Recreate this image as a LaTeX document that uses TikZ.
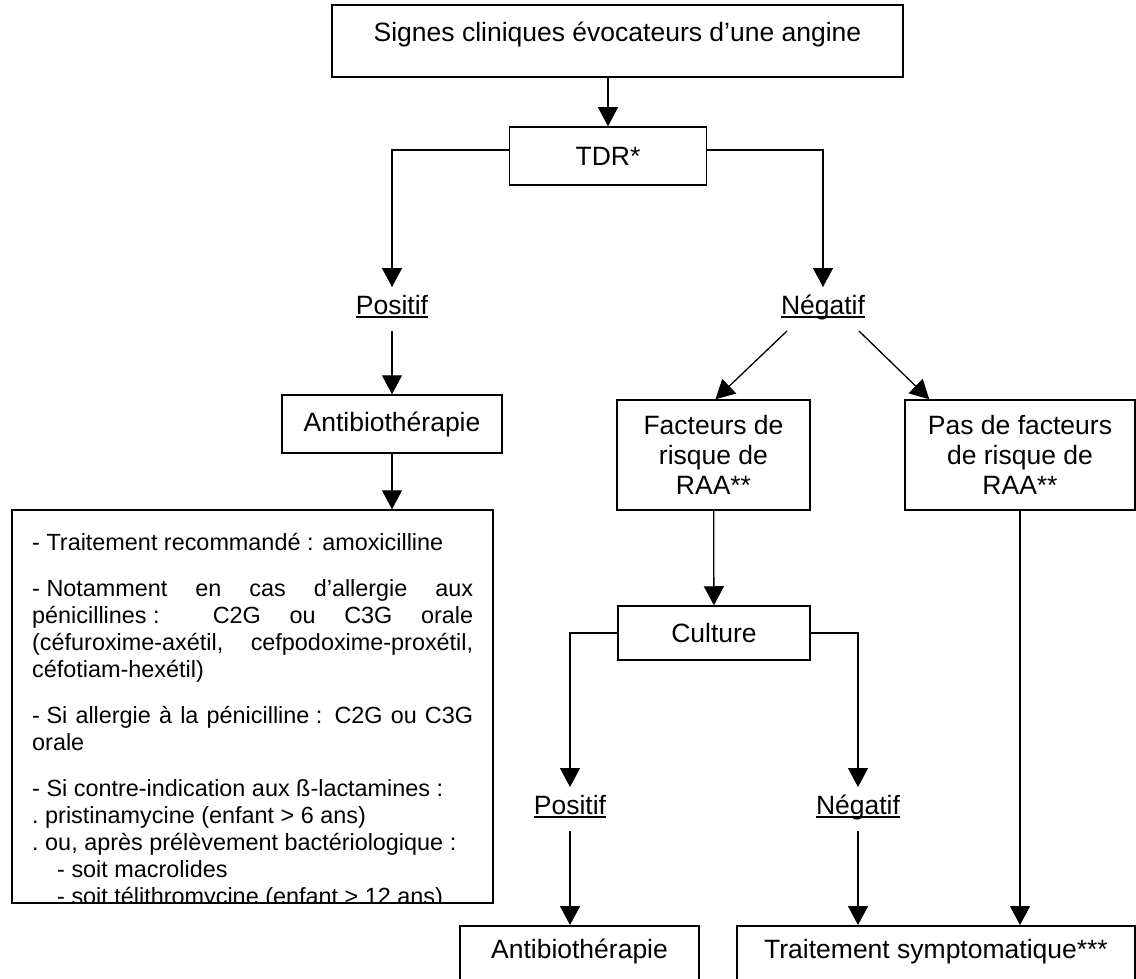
\documentclass[tikz,border=0pt]{standalone}
\usepackage{fontspec}
\setmainfont{Liberation Sans}
\usetikzlibrary{arrows.meta}
\newcommand{\grand}{\fontsize{26.5pt}{30pt}\selectfont}
\newcommand{\petit}{\fontsize{23.4pt}{27pt}\selectfont}
\newcommand{\souligne}[1]{\setbox0=\hbox{#1}\rlap{\rule[-4pt]{\wd0}{1.6pt}}\box0}
\newcommand{\esp}{\nobreak\hspace{.28em}}

\begin{document}
\begin{tikzpicture}[x=1pt, y=-1pt,
    boite/.style={draw, line width=1.5pt, inner sep=0pt, align=center, font=\grand},
    lbl/.style={inner sep=0pt, outer sep=8pt, text height=19pt, text depth=9pt, font=\grand},
    fleche/.style={line width=1.3pt, -{Triangle[length=19pt, width=20pt]}}]
      \useasboundingbox (0,0) rectangle (1136,979);
      \draw
        (617.5,41) node[boite, minimum width=571pt, minimum height=72pt, text depth=18pt] (signes){Signes cliniques évocateurs d’une angine}
        (608,156) node[boite, minimum width=197pt, minimum height=58pt] (tdr){TDR*}
        (392,309) node[lbl] (pos1){\souligne{Positif}}
        (823,309) node[lbl] (neg1){\souligne{Négatif}}
        (392,424) node[boite, minimum width=220pt, minimum height=58pt] (atb1){Antibiothérapie}
        (252.5,706.5) node[boite, minimum width=481pt, minimum height=393pt] (reco){}
        (713.5,455) node[boite, minimum width=193pt, minimum height=110pt] (frisque){Facteurs de\\risque de\\RAA**}
        (1020,455) node[boite, minimum width=230pt, minimum height=110pt] (pasrisque){Pas de facteurs\\de risque de\\RAA**}
        (714,633) node[boite, minimum width=192pt, minimum height=54pt] (culture){Culture}
        (570,809) node[lbl] (pos2){\souligne{Positif}}
        (858,809) node[lbl] (neg2){\souligne{Négatif}}
        (579.5,925) node[boite, anchor=north, minimum width=239pt, inner ysep=14pt, text height=19pt, text depth=30pt] (atb2){Antibiothérapie}
        (936,925) node[boite, anchor=north, minimum width=398pt, inner ysep=14pt, text height=19pt, text depth=30pt] (sympto){Traitement symptomatique***};
      \begin{scope}
        \clip (reco.south west) rectangle (reco.north east);
        \node[anchor=north west, inner sep=0pt, text width=441pt, align=justify, font=\petit] (recotexte) at (32,533) {\petit\hyphenpenalty=10000 \exhyphenpenalty=10000 \tolerance=10000 \setlength{\parskip}{19pt}%
          -\esp Traitement recommandé\esp: amoxicilline\par
          -\esp Notamment en cas d’allergie aux\linebreak pénicillines\esp: C2G ou C3G orale\linebreak (céfuroxime-axétil, cefpodoxime-proxétil,\linebreak céfotiam-hexétil)\par
          -\esp Si allergie à la pénicilline\esp: C2G ou C3G\linebreak orale\par
          -\esp Si contre-indication aux ß-lactamines\esp:\\
          .\esp pristinamycine (enfant > 6 ans)\\
          .\esp ou, après prélèvement bactériologique\esp:\\
          \hspace*{25pt}-\esp soit macrolides\\
          \hspace*{25pt}-\esp soit télithromycine (enfant > 12 ans)\par};
      \end{scope}
      \begin{scope}[fleche]
        \draw (signes.south -| tdr) -- (tdr);
        \draw ([yshift=6pt]tdr.west) -| (pos1);
        \draw ([yshift=6pt]tdr.east) -| (neg1);
        \draw (pos1) -- (atb1);
        \draw (atb1) -- (atb1 |- reco.north);
        \draw ([xshift=14pt]neg1.south west) -- ([xshift=2pt]frisque.north);
        \draw ([xshift=-14pt]neg1.south east) -- ([xshift=25pt]pasrisque.north west);
        \draw (frisque) -- (culture);
        \draw (culture.west) -| (pos2);
        \draw (culture.east) -| (neg2);
        \draw (pos2) -- (pos2 |- atb2.north);
        \draw (neg2) -- (neg2 |- sympto.north);
        \draw (pasrisque) -- (pasrisque |- sympto.north);
      \end{scope}
    \end{tikzpicture}
\end{document}
